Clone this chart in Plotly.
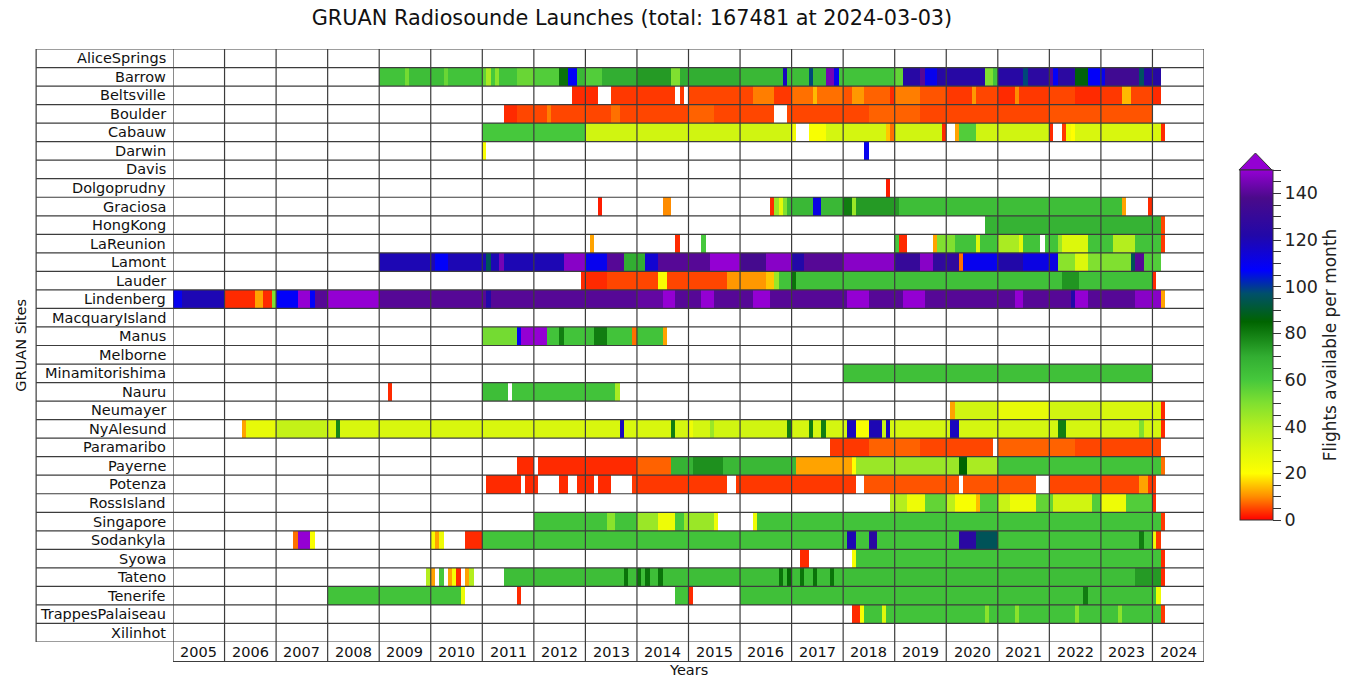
import numpy as np
import plotly.graph_objects as go

TITLE = "GRUAN Radiosounde Launches (total: 167481 at 2024-03-03)"
SITES = ["AliceSprings", "Barrow", "Beltsville", "Boulder", "Cabauw", "Darwin", "Davis",
         "Dolgoprudny", "Graciosa", "HongKong", "LaReunion", "Lamont", "Lauder", "Lindenberg",
         "MacquaryIsland", "Manus", "Melborne", "Minamitorishima", "Nauru", "Neumayer",
         "NyAlesund", "Paramaribo", "Payerne", "Potenza", "RossIsland", "Singapore",
         "Sodankyla", "Syowa", "Tateno", "Tenerife", "TrappesPalaiseau", "Xilinhot"]
YEARS = list(range(2005, 2025))
FIRST_YEAR = 2005
N_MONTHS = 19 * 12 + 3  # Jan 2005 .. Mar 2024

# colour scale (value, colour)
CB_VALUES = [0, 10, 20, 30, 40, 50, 60, 70, 85, 97, 107, 122, 138, 150]
CB_COLORS = ["#ff0000", "#ff8c00", "#ffff00", "#dcf80c", "#b4ee1e", "#80e030", "#46c83c",
             "#32ae32", "#006400", "#00506a", "#0000ff", "#2208a8", "#4a0a8a", "#9400d3"]
CB_TICKS = list(range(0, 151, 5))

# monthly flights, as runs (first month, last month, flights per month)
ALICESPRINGS = []
BARROW = [("2009-01", "2009-06", 62), ("2009-07", "2009-07", 52), ("2009-08", "2010-03", 64),
          ("2010-04", "2010-04", 54), ("2010-05", "2010-12", 62), ("2011-01", "2011-01", 55),
          ("2011-02", "2011-02", 42), ("2011-03", "2011-03", 60), ("2011-04", "2011-04", 48),
          ("2011-05", "2011-08", 62), ("2011-09", "2011-12", 54), ("2012-01", "2012-06", 58),
          ("2012-07", "2012-08", 82), ("2012-09", "2012-10", 108), ("2012-11", "2012-12", 66),
          ("2013-01", "2013-04", 58), ("2013-05", "2013-12", 70), ("2014-01", "2014-08", 74),
          ("2014-09", "2014-10", 50), ("2014-11", "2015-12", 70), ("2016-01", "2016-10", 66),
          ("2016-11", "2016-11", 118), ("2016-12", "2017-04", 64), ("2017-05", "2017-05", 98),
          ("2017-06", "2017-08", 66), ("2017-09", "2017-10", 145), ("2017-11", "2017-11", 110),
          ("2017-12", "2018-12", 62), ("2019-01", "2019-02", 55), ("2019-03", "2019-06", 124),
          ("2019-07", "2019-07", 140), ("2019-08", "2019-10", 110), ("2019-11", "2020-09", 124),
          ("2020-10", "2020-11", 50), ("2020-12", "2020-12", 62), ("2021-01", "2021-06", 124),
          ("2021-07", "2021-07", 98), ("2021-08", "2021-12", 126), ("2022-01", "2022-01", 140),
          ("2022-02", "2022-02", 108), ("2022-03", "2022-06", 126), ("2022-07", "2022-09", 86),
          ("2022-10", "2022-12", 108), ("2023-01", "2023-01", 110), ("2023-02", "2023-09", 134),
          ("2023-10", "2023-10", 96), ("2023-11", "2024-02", 124)]
BELTSVILLE = [("2012-10", "2013-03", 3), ("2013-07", "2014-09", 4), ("2014-11", "2014-11", 4),
              ("2015-01", "2015-12", 5), ("2016-01", "2016-03", 5), ("2016-04", "2016-08", 9),
              ("2016-09", "2016-12", 4), ("2017-01", "2017-05", 8), ("2017-06", "2017-06", 14),
              ("2017-07", "2017-12", 8), ("2018-01", "2018-02", 6), ("2018-03", "2018-05", 11),
              ("2018-06", "2018-11", 7), ("2018-12", "2018-12", 3), ("2019-01", "2019-06", 9),
              ("2019-07", "2019-12", 6), ("2020-01", "2020-06", 4), ("2020-07", "2020-07", 11),
              ("2020-08", "2020-12", 5), ("2021-01", "2021-04", 3), ("2021-05", "2021-05", 10),
              ("2021-06", "2021-12", 4), ("2022-01", "2022-06", 5), ("2022-07", "2022-12", 3),
              ("2023-01", "2023-05", 4), ("2023-06", "2023-07", 14), ("2023-08", "2023-12", 5),
              ("2024-01", "2024-02", 3)]
BOULDER = [("2011-06", "2011-08", 3), ("2011-09", "2012-03", 5), ("2012-04", "2012-04", 9),
           ("2012-05", "2013-06", 5), ("2013-07", "2013-08", 8), ("2013-09", "2014-12", 5),
           ("2015-01", "2015-06", 7), ("2015-07", "2016-08", 5), ("2016-12", "2018-06", 5),
           ("2018-07", "2019-06", 7), ("2019-07", "2021-12", 5), ("2022-01", "2023-12", 6)]
CABAUW = [("2011-01", "2012-12", 60), ("2013-01", "2016-12", 33), ("2017-01", "2017-01", 24),
          ("2017-05", "2017-08", 22), ("2017-09", "2018-10", 32), ("2018-11", "2018-11", 15),
          ("2018-12", "2018-12", 8), ("2019-01", "2019-11", 33), ("2019-12", "2019-12", 3),
          ("2020-03", "2020-03", 12), ("2020-04", "2020-07", 58), ("2020-08", "2021-12", 33),
          ("2022-01", "2022-01", 3), ("2022-04", "2022-04", 4), ("2022-05", "2022-05", 24),
          ("2022-06", "2022-06", 20), ("2022-07", "2024-02", 31), ("2024-03", "2024-03", 3)]
DARWIN = [("2011-01", "2011-01", 22), ("2018-06", "2018-06", 110)]
DAVIS = []
DOLGOPRUDNY = [("2018-11", "2018-11", 2)]
GRACIOSA = [("2013-04", "2013-04", 2), ("2014-07", "2014-08", 10), ("2016-08", "2016-08", 3),
            ("2016-09", "2016-09", 45), ("2016-10", "2016-10", 28), ("2016-11", "2016-11", 50),
            ("2016-12", "2017-05", 66), ("2017-06", "2017-07", 112), ("2017-08", "2017-12", 66),
            ("2018-01", "2018-02", 80), ("2018-03", "2018-03", 45), ("2018-04", "2019-01", 74),
            ("2019-02", "2023-05", 64), ("2023-06", "2023-06", 12), ("2023-12", "2023-12", 3)]
HONGKONG = [("2020-10", "2024-02", 68), ("2024-03", "2024-03", 5)]
LAREUNION = [("2013-02", "2013-02", 12), ("2014-10", "2014-10", 3), ("2015-04", "2015-04", 60),
             ("2019-01", "2019-01", 60), ("2019-02", "2019-03", 3), ("2019-10", "2019-10", 12),
             ("2019-11", "2020-02", 50), ("2020-03", "2020-07", 62), ("2020-08", "2020-08", 30),
             ("2020-09", "2020-12", 62), ("2021-01", "2021-05", 42), ("2021-06", "2021-06", 28),
             ("2021-07", "2021-10", 62), ("2021-12", "2022-02", 62), ("2022-03", "2022-03", 45),
             ("2022-04", "2022-09", 30), ("2022-10", "2023-03", 62), ("2023-04", "2023-08", 40),
             ("2023-09", "2024-02", 62), ("2024-03", "2024-03", 4)]
LAMONT = [("2009-01", "2010-01", 120), ("2010-02", "2010-04", 108), ("2010-05", "2011-01", 120),
          ("2011-02", "2011-02", 95), ("2011-03", "2011-04", 120), ("2011-05", "2011-05", 145),
          ("2011-06", "2012-07", 120), ("2012-08", "2012-12", 148), ("2013-01", "2013-05", 110),
          ("2013-06", "2013-09", 140), ("2013-10", "2014-02", 70), ("2014-03", "2014-05", 115),
          ("2014-06", "2015-05", 140), ("2015-06", "2015-12", 150), ("2016-01", "2016-06", 136),
          ("2016-07", "2016-12", 148), ("2017-01", "2017-03", 122), ("2017-04", "2017-12", 140),
          ("2018-01", "2018-12", 148), ("2019-01", "2019-06", 130), ("2019-07", "2019-09", 148),
          ("2019-10", "2020-03", 128), ("2020-04", "2020-04", 8), ("2020-05", "2020-12", 110),
          ("2021-01", "2021-06", 122), ("2021-07", "2022-02", 112), ("2022-03", "2022-06", 48),
          ("2022-07", "2022-09", 30), ("2022-10", "2023-07", 50), ("2023-08", "2023-08", 95),
          ("2023-09", "2023-10", 140), ("2023-11", "2024-02", 58)]
LAUDER = [("2012-12", "2013-05", 3), ("2013-06", "2014-05", 5), ("2014-06", "2014-07", 22),
          ("2014-08", "2015-09", 5), ("2015-10", "2016-06", 11), ("2016-07", "2016-08", 15),
          ("2016-09", "2016-09", 45), ("2016-10", "2016-12", 62), ("2017-01", "2017-01", 82),
          ("2017-02", "2022-03", 63), ("2022-04", "2022-07", 75), ("2022-08", "2023-12", 63),
          ("2024-01", "2024-01", 3)]
LINDENBERG = [("2005-01", "2005-02", 110), ("2005-03", "2005-12", 120), ("2006-01", "2006-07", 3),
              ("2006-08", "2006-09", 12), ("2006-10", "2006-11", 3), ("2006-12", "2006-12", 50),
              ("2007-01", "2007-05", 108), ("2007-06", "2007-08", 150), ("2007-09", "2007-09", 108),
              ("2007-10", "2007-12", 140), ("2008-01", "2008-12", 150), ("2009-01", "2011-01", 140),
              ("2011-02", "2011-02", 122), ("2011-03", "2013-12", 140), ("2014-01", "2014-06", 142),
              ("2014-07", "2014-09", 150), ("2014-10", "2015-03", 140), ("2015-04", "2015-06", 150),
              ("2015-07", "2016-03", 140), ("2016-04", "2016-07", 150), ("2016-08", "2018-01", 140),
              ("2018-02", "2018-06", 150), ("2018-07", "2019-02", 140), ("2019-03", "2019-07", 150),
              ("2019-08", "2021-04", 140), ("2021-05", "2021-06", 150), ("2021-07", "2022-05", 140),
              ("2022-06", "2022-06", 122), ("2022-07", "2022-09", 150), ("2022-10", "2023-08", 140),
              ("2023-09", "2024-02", 148), ("2024-03", "2024-03", 12)]
MACQUARYISLAND = []
MANUS = [("2011-01", "2011-08", 52), ("2011-09", "2011-09", 110), ("2011-10", "2012-03", 150),
         ("2012-04", "2012-06", 62), ("2012-07", "2012-07", 80), ("2012-08", "2012-12", 62),
         ("2013-01", "2013-02", 64), ("2013-03", "2013-05", 80), ("2013-06", "2013-11", 62),
         ("2013-12", "2013-12", 8), ("2014-01", "2014-06", 62), ("2014-07", "2014-07", 12)]
MELBORNE = []
MINAMITORISHIMA = [("2018-01", "2023-12", 63)]
NAURU = [("2009-03", "2009-03", 3), ("2011-01", "2011-06", 64), ("2011-08", "2013-07", 62),
         ("2013-08", "2013-08", 42)]
NEUMAYER = [("2020-02", "2020-02", 12), ("2020-03", "2020-12", 33), ("2021-01", "2021-12", 27),
            ("2022-01", "2022-12", 33), ("2023-01", "2024-02", 31), ("2024-03", "2024-03", 3)]
NYALESUND = [("2006-05", "2006-05", 12), ("2006-06", "2006-12", 27), ("2007-01", "2007-12", 36),
             ("2008-01", "2008-02", 31), ("2008-03", "2008-03", 78), ("2008-04", "2013-08", 31),
             ("2013-09", "2013-09", 118), ("2013-10", "2014-08", 31), ("2014-09", "2014-09", 80),
             ("2014-10", "2014-12", 32), ("2015-01", "2015-01", 25), ("2015-02", "2015-05", 32),
             ("2015-06", "2015-06", 45), ("2015-07", "2016-11", 33), ("2016-12", "2016-12", 80),
             ("2017-01", "2017-04", 32), ("2017-05", "2017-05", 80), ("2017-06", "2017-07", 32),
             ("2017-08", "2017-08", 80), ("2017-09", "2018-01", 32), ("2018-02", "2018-03", 118),
             ("2018-04", "2018-06", 22), ("2018-07", "2018-09", 120), ("2018-10", "2018-10", 35),
             ("2018-11", "2018-11", 118), ("2018-12", "2020-01", 32), ("2020-02", "2020-03", 118),
             ("2020-04", "2022-02", 32), ("2022-03", "2022-04", 80), ("2022-05", "2023-09", 32),
             ("2023-10", "2023-10", 50), ("2023-11", "2024-02", 32), ("2024-03", "2024-03", 3)]
PARAMARIBO = [("2017-10", "2018-06", 4), ("2018-07", "2019-06", 7), ("2019-07", "2020-11", 5),
              ("2021-01", "2022-06", 7), ("2022-07", "2024-02", 5)]
PAYERNE = [("2011-09", "2011-12", 3), ("2012-02", "2013-12", 3), ("2014-01", "2014-08", 7),
           ("2014-09", "2015-01", 68), ("2015-02", "2015-08", 76), ("2015-09", "2017-01", 66),
           ("2017-02", "2018-02", 12), ("2018-03", "2018-03", 20), ("2018-04", "2020-03", 45),
           ("2020-04", "2020-05", 85), ("2020-06", "2020-12", 42), ("2021-01", "2024-02", 62),
           ("2024-03", "2024-03", 8)]
POTENZA = [("2011-02", "2011-09", 3), ("2011-11", "2012-01", 3), ("2012-07", "2012-08", 3),
           ("2012-11", "2013-02", 3), ("2013-04", "2013-06", 3), ("2013-12", "2015-09", 4),
           ("2015-12", "2018-03", 4), ("2018-06", "2020-03", 6), ("2020-05", "2021-09", 6),
           ("2022-01", "2023-09", 5), ("2023-10", "2023-11", 12), ("2023-12", "2024-01", 4)]
ROSSISLAND = [("2018-12", "2019-03", 40), ("2019-04", "2019-07", 25), ("2019-08", "2019-12", 55),
              ("2020-01", "2020-02", 38), ("2020-03", "2020-07", 22), ("2020-08", "2020-08", 14),
              ("2020-09", "2020-12", 58), ("2021-01", "2021-03", 35), ("2021-04", "2021-09", 25),
              ("2021-10", "2022-01", 55), ("2022-02", "2022-10", 33), ("2022-11", "2022-12", 58),
              ("2023-01", "2023-06", 25), ("2023-07", "2023-12", 58), ("2024-01", "2024-01", 3)]
SINGAPORE = [("2012-01", "2013-05", 62), ("2013-06", "2013-07", 48), ("2013-08", "2013-12", 62),
             ("2014-01", "2014-05", 45), ("2014-06", "2014-09", 25), ("2014-10", "2014-11", 60),
             ("2014-12", "2015-06", 45), ("2015-07", "2015-07", 25), ("2016-04", "2016-04", 25),
             ("2016-05", "2024-02", 62), ("2024-03", "2024-03", 4)]
SODANKYLA = [("2007-05", "2007-05", 8), ("2007-06", "2007-08", 150), ("2007-09", "2007-09", 22),
             ("2010-01", "2010-01", 22), ("2010-02", "2010-02", 12), ("2010-03", "2010-03", 25),
             ("2010-09", "2010-12", 3), ("2011-01", "2018-01", 62), ("2018-02", "2018-03", 120),
             ("2018-04", "2018-06", 62), ("2018-07", "2018-08", 125), ("2018-09", "2020-03", 62),
             ("2020-04", "2020-07", 125), ("2020-08", "2020-12", 95), ("2021-01", "2023-09", 62),
             ("2023-10", "2023-10", 80), ("2023-11", "2023-12", 62), ("2024-01", "2024-01", 25),
             ("2024-02", "2024-02", 4)]
SYOWA = [("2017-03", "2017-04", 3), ("2018-03", "2018-03", 22), ("2018-04", "2024-02", 62),
         ("2024-03", "2024-03", 3)]
TATENO = [("2009-12", "2009-12", 40), ("2010-01", "2010-01", 12), ("2010-03", "2010-03", 60),
          ("2010-05", "2010-05", 12), ("2010-06", "2010-06", 22), ("2010-07", "2010-07", 3),
          ("2010-09", "2010-09", 12), ("2010-10", "2010-10", 40), ("2011-06", "2013-09", 64),
          ("2013-10", "2013-10", 82), ("2013-11", "2013-12", 64), ("2014-01", "2014-01", 82),
          ("2014-02", "2014-02", 64), ("2014-03", "2014-03", 82), ("2014-04", "2014-05", 64),
          ("2014-06", "2014-06", 82), ("2014-07", "2016-09", 64), ("2016-10", "2016-10", 82),
          ("2016-11", "2016-11", 64), ("2016-12", "2016-12", 84), ("2017-01", "2017-02", 64),
          ("2017-03", "2017-03", 82), ("2017-04", "2017-05", 64), ("2017-06", "2017-06", 82),
          ("2017-07", "2017-09", 64), ("2017-10", "2017-10", 82), ("2017-11", "2023-08", 64),
          ("2023-09", "2024-02", 74), ("2024-03", "2024-03", 3)]
TENERIFE = [("2008-01", "2010-07", 62), ("2010-08", "2010-08", 25), ("2011-09", "2011-09", 3),
            ("2014-10", "2014-12", 62), ("2015-01", "2015-01", 3), ("2016-01", "2022-08", 63),
            ("2022-09", "2022-09", 80), ("2022-10", "2024-01", 63), ("2024-02", "2024-02", 25)]
TRAPPESPALAISEAU = [("2018-03", "2018-04", 3), ("2018-05", "2018-05", 22), ("2018-06", "2018-09", 62),
                    ("2018-10", "2018-10", 30), ("2018-11", "2020-09", 62), ("2020-10", "2020-10", 48),
                    ("2020-11", "2021-04", 62), ("2021-05", "2021-05", 48), ("2021-06", "2022-06", 62),
                    ("2022-07", "2022-07", 48), ("2022-08", "2023-04", 62), ("2023-05", "2023-05", 48),
                    ("2023-06", "2024-02", 62), ("2024-03", "2024-03", 4)]
XILINHOT = []

RUNS = [ALICESPRINGS, BARROW, BELTSVILLE, BOULDER, CABAUW, DARWIN, DAVIS, DOLGOPRUDNY,
        GRACIOSA, HONGKONG, LAREUNION, LAMONT, LAUDER, LINDENBERG, MACQUARYISLAND, MANUS,
        MELBORNE, MINAMITORISHIMA, NAURU, NEUMAYER, NYALESUND, PARAMARIBO, PAYERNE, POTENZA,
        ROSSISLAND, SINGAPORE, SODANKYLA, SYOWA, TATENO, TENERIFE, TRAPPESPALAISEAU, XILINHOT]


def month_index(s):
    y, m = s.split("-")
    return (int(y) - FIRST_YEAR) * 12 + int(m) - 1


z = np.full((len(SITES), N_MONTHS), np.nan)
for r, runs in enumerate(RUNS):
    for a, b, v in runs:
        z[r, month_index(a):month_index(b) + 1] = v
z_list = [[None if np.isnan(v) else float(v) for v in row] for row in z]
x_centers = [FIRST_YEAR + (i + 0.5) / 12 for i in range(N_MONTHS)]

colorscale = [[v / CB_VALUES[-1], c] for v, c in zip(CB_VALUES, CB_COLORS)]

# pixel geometry
W, H = 1351, 677
L, R, T, B = 173, 1205, 49, 642
PW, PH = R - L, B - T
LABEL_LEFT = 36
YEAR_ROW = 19.5
FONT = "DejaVu Sans"
LINE = dict(color="#3c3c3c", width=1.2)
TXT = "#111111"

fig = go.Figure()
fig.add_trace(go.Heatmap(
    x=x_centers, y=list(range(len(SITES))), z=z_list,
    zmin=0, zmax=CB_VALUES[-1], colorscale=colorscale, hoverinfo="skip",
    colorbar=dict(
        x=(1240 - L) / PW, xanchor="left", y=(B - 520) / PH, yanchor="bottom",
        len=350, lenmode="pixels", thickness=33, xpad=0, ypad=0,
        outlinecolor="#333333", outlinewidth=1,
        tickvals=CB_TICKS,
        ticktext=[str(t) if t % 20 == 0 and t <= 140 else "" for t in CB_TICKS],
        ticks="outside", ticklen=8, tickcolor="#333333",
        tickfont=dict(family=FONT, size=17.5, color="#222222"),
        title=dict(text="Flights available per month", side="right",
                   font=dict(family=FONT, size=17, color="#222222")),
    ),
))

shapes = []
yb = -YEAR_ROW / PH
for yr in YEARS + [YEARS[-1] + 1]:
    shapes.append(dict(type="line", xref="x", yref="paper", x0=yr, x1=yr, y0=yb, y1=1,
                       line=LINE, layer="above"))
xl = (LABEL_LEFT - L) / PW
for k in range(len(SITES) + 1):
    shapes.append(dict(type="line", xref="paper", yref="y", x0=xl, x1=1, y0=k - 0.5, y1=k - 0.5,
                       line=LINE, layer="above"))
shapes.append(dict(type="line", xref="paper", yref="paper", x0=xl, x1=xl, y0=0, y1=1,
                   line=LINE, layer="above"))
shapes.append(dict(type="line", xref="x", yref="paper", x0=YEARS[0], x1=YEARS[-1] + 1, y0=yb, y1=yb,
                   line=LINE, layer="above"))
# extend triangle on top of the colour bar
cx0, cx1 = (1240 - L) / PW, (1273 - L) / PW
cy0, cyt = (B - 170) / PH, (B - 153) / PH
shapes.append(dict(type="path", xref="paper", yref="paper",
                   path=f"M {cx0},{cy0} L {(cx0 + cx1) / 2},{cyt} L {cx1},{cy0} Z",
                   fillcolor=CB_COLORS[-1], line=dict(color="#333333", width=1)))

annotations = []
for k, s in enumerate(SITES):
    annotations.append(dict(text=s, xref="paper", yref="y", x=-5 / PW, y=k, xanchor="right",
                            yanchor="middle", showarrow=False,
                            font=dict(family=FONT, size=14.5, color=TXT)))
for yr in YEARS:
    annotations.append(dict(text=str(yr), xref="x", yref="paper", x=yr + 0.5, y=yb / 2,
                            xanchor="center", yanchor="middle", showarrow=False,
                            font=dict(family=FONT, size=14.5, color=TXT)))
annotations.append(dict(text="Years", xref="paper", yref="paper", x=0.5, y=-(670 - B) / PH,
                        xanchor="center", yanchor="middle", showarrow=False,
                        font=dict(family=FONT, size=14.5, color=TXT)))
annotations.append(dict(text="GRUAN Sites", xref="paper", yref="paper", x=(20 - L) / PW, y=0.5,
                        xanchor="center", yanchor="middle", showarrow=False, textangle=-90,
                        font=dict(family=FONT, size=14.5, color=TXT)))

fig.update_layout(
    width=W, height=H, autosize=False,
    margin=dict(l=L, r=W - R, t=T, b=H - B, pad=0),
    paper_bgcolor="white", plot_bgcolor="white",
    title=dict(text=TITLE, x=632 / W, y=1 - 18 / H, xanchor="center", yanchor="middle",
               xref="container", yref="container",
               font=dict(family=FONT, size=20.8, color=TXT)),
    xaxis=dict(range=[YEARS[0], YEARS[-1] + 1], showgrid=False, zeroline=False,
               showticklabels=False, ticks="", fixedrange=True),
    yaxis=dict(range=[len(SITES) - 0.5, -0.5], showgrid=False, zeroline=False,
               showticklabels=False, ticks="", fixedrange=True),
    shapes=shapes, annotations=annotations, showlegend=False,
)

fig.write_html("out.html", config={"displayModeBar": False},
               post_script="document.body.style.margin='0px';document.body.style.overflow='hidden';")
